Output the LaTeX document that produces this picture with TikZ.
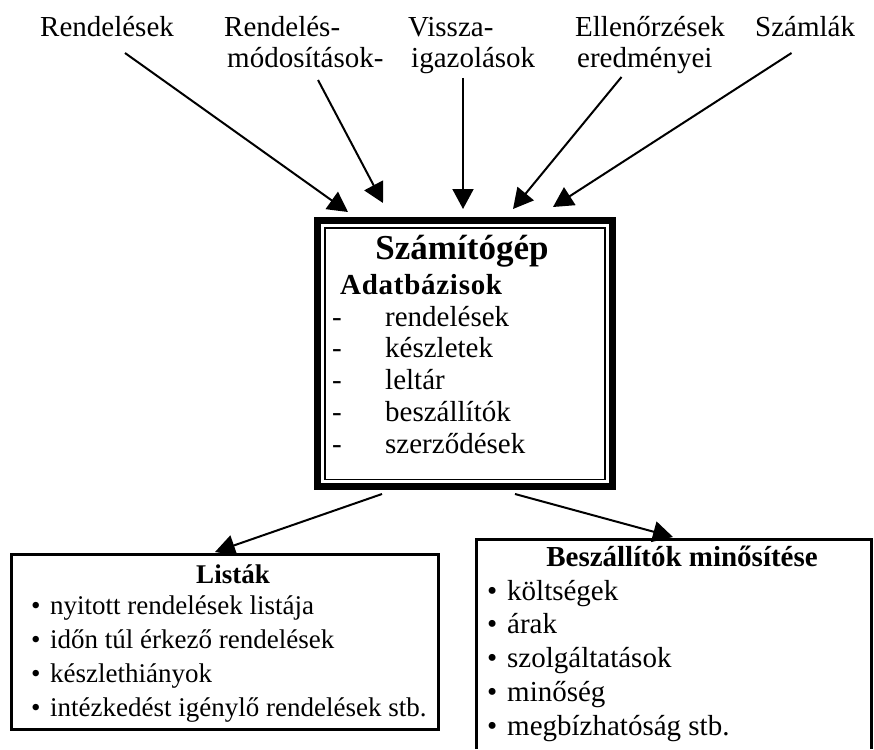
\documentclass[tikz,border=0pt]{standalone}
\usepackage{fontspec}
\setmainfont{Liberation Serif}
\usetikzlibrary{arrows.meta}
\begin{document}
\begin{tikzpicture}[x=1pt,y=-1pt,
  txt/.style={inner sep=0pt, anchor=base west, font=\fontsize{29}{29}\selectfont},
  smalltxt/.style={inner sep=0pt, anchor=base west, font=\fontsize{27}{27}\selectfont},
  ttl/.style={inner sep=0pt, anchor=base, font=\fontsize{29}{29}\selectfont\bfseries},
  arr/.style={line width=2pt, -{Triangle[length=20pt,width=21pt]}},
  thinbox/.style={line width=3pt}
]
\useasboundingbox (0,0) rectangle (874,749);

% top labels
\node[txt] (l1) at (40,37) {Rendelések};
\node[txt] (l2a) at (224,37) {Rendelés-};
\node[txt] (l2b) at (227,68) {módosítások-};
\node[txt] (l3a) at (408,37) {Vissza-};
\node[txt] (l3b) at (411,68) {igazolások};
\node[txt] (l4a) at (575,37) {Ellenőrzések};
\node[txt] (l4b) at (577,68) {eredményei};
\node[txt] (l5) at (755,37) {Számlák};

% central box
\node[draw=none, minimum width=302pt, minimum height=273pt, inner sep=0pt] (comp) at (465,353.5) {};
\draw[line width=7pt] (317.5,220.5) rectangle (612.5,486.5);
\draw[line width=1.5pt] (325,228) rectangle (605,479.5);
\node[ttl, font=\fontsize{35}{35}\selectfont\bfseries] (ctitle) at (462,259) {Számítógép};
\node[txt, font=\fontsize{29}{29}\selectfont\bfseries\addfontfeature{LetterSpace=2.5}] (adb) at (340,294) {Adatbázisok};
\foreach \t [count=\i] in {rendelések,készletek,leltár,beszállítók,szerződések}{
  \pgfmathsetmacro{\yy}{326+31.8*(\i-1)}
  \node[txt] (dash\i) at (332,\yy) {-};
  \node[txt] (db\i) at (385,\yy) {\t};
}

% arrow endpoints
\coordinate (s1) at (125,53);  \coordinate (e1) at (348,212);
\coordinate (s2) at (318,80);  \coordinate (e2) at (383,203);
\coordinate (s3) at (463,78); \coordinate (e3) at (463,209);
\coordinate (s4) at (621.5,77); \coordinate (e4) at (513,209);
\coordinate (s5) at (791.5,53); \coordinate (e5) at (553,207);
\foreach \i in {1,...,5}{\draw[arr] (s\i) -- (e\i);}

% Listák box
\draw[thinbox] (11.5,554) rectangle (438,729.5);
\node[ttl, font=\fontsize{27}{27}\selectfont\bfseries] (lt) at (233,583) {Listák};
\foreach \t [count=\i] in {nyitott rendelések listája,időn túl érkező rendelések,készlethiányok,intézkedést igénylő rendelések stb.}{
  \pgfmathsetmacro{\yy}{614+34*(\i-1)}
  \node[smalltxt] (lb\i) at (31,\yy) {•};
  \node[smalltxt] (li\i) at (50,\yy) {\t};
}

% Beszállítók box
\draw[thinbox] (476.5,749) -- (476.5,539.5) -- (871.5,539.5) -- (871.5,749);
\node[ttl] (bt) at (682,566) {Beszállítók minősítése};
\foreach \t [count=\i] in {költségek,árak,szolgáltatások,minőség,megbízhatóság stb.}{
  \pgfmathsetmacro{\yy}{600+33.8*(\i-1)}
  \node[txt] (bb\i) at (487,\yy) {•};
  \node[txt] (bi\i) at (507,\yy) {\t};
}

% lower arrows
\coordinate (s6) at (382,494); \coordinate (e6) at (215,552);
\coordinate (s7) at (515,494); \coordinate (e7) at (673,537);
\draw[arr] (s6) -- (e6);
\draw[arr] (s7) -- (e7);
\end{tikzpicture}
\end{document}
